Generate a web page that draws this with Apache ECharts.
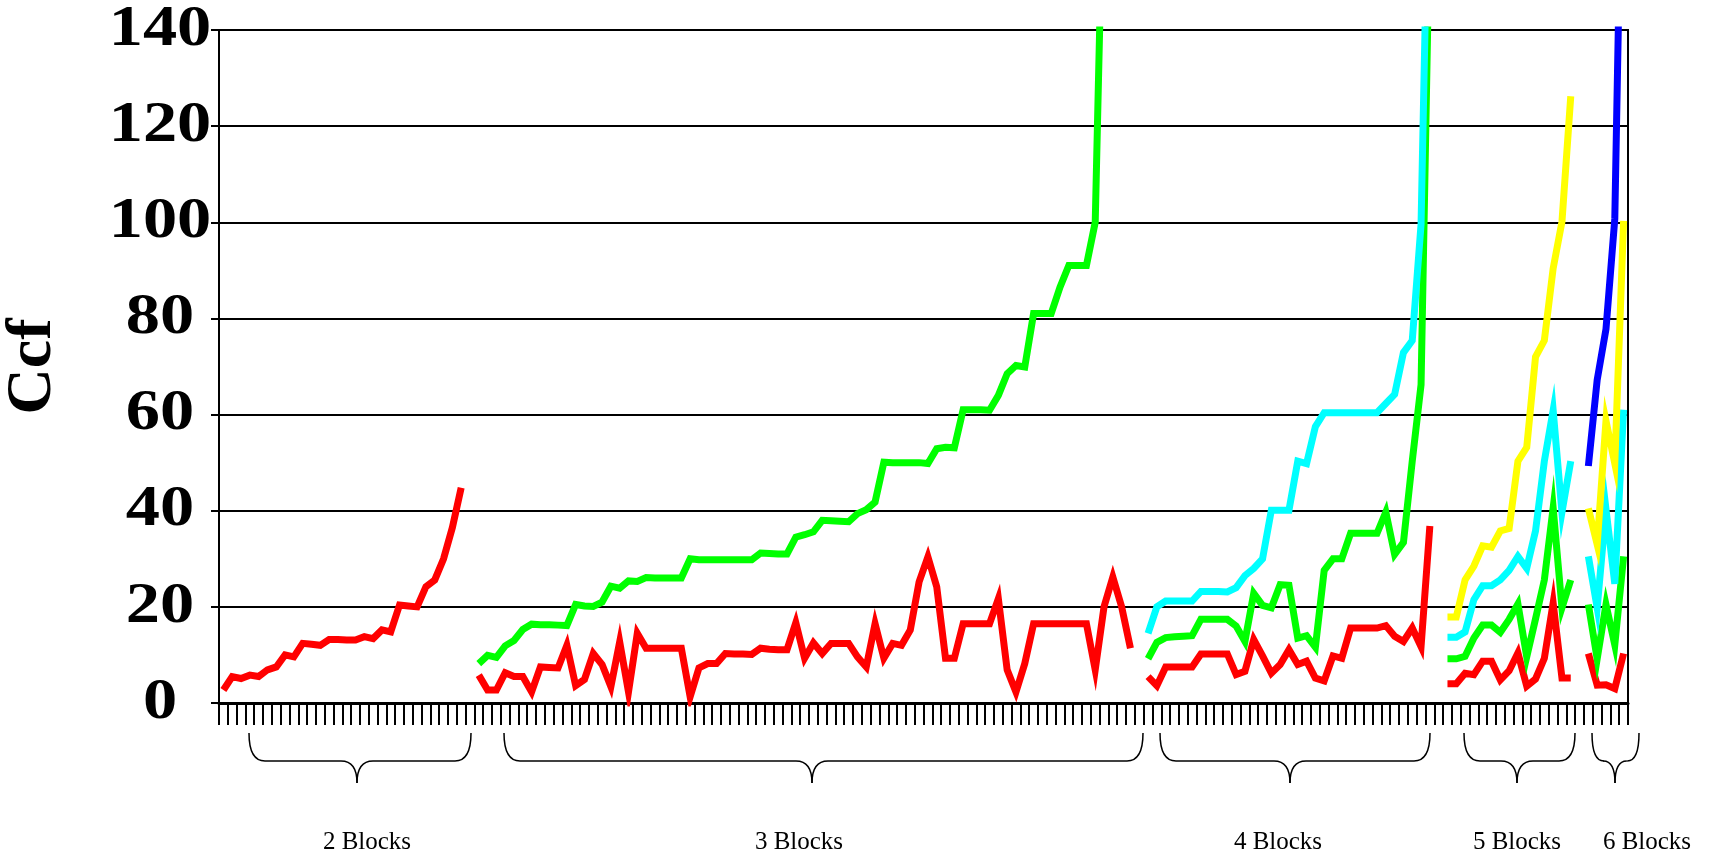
<!DOCTYPE html>
<html>
<head>
<meta charset="utf-8">
<script src="https://cdn.jsdelivr.net/npm/echarts@6/dist/echarts.min.js"></script>
<style>
  html, body { margin: 0; padding: 0; background: #fff; }
  #main { width: 1710px; height: 856px; }
</style>
</head>
<body>
<div id="main"></div>
<script>
// Ccf values per group (one category per configuration, one empty category between groups)
var red2 = [2.7, 5.5, 5.1, 5.8, 5.5, 6.9, 7.5, 10.0, 9.6, 12.4, 12.2, 12.0, 13.2, 13.2,
            13.1, 13.1, 13.8, 13.4, 15.2, 14.8, 20.4, 20.2, 20.0, 24.2, 25.6, 30.0, 36.5, 44.8];

var red3 = [5.8, 2.7, 2.7, 6.3, 5.5, 5.5, 2.3, 7.5, 7.4, 7.3, 12.0, 3.6, 4.9, 10.3, 8.0,
            3.4, 12.7, 2.3, 14.5, 11.4, 11.4, 11.4, 11.4, 11.4, 1.3, 7.3, 8.2, 8.2, 10.3, 10.2,
            10.2, 10.1, 11.4, 11.2, 11.1, 11.1, 16.7, 9.3, 12.5, 10.3, 12.4, 12.4, 12.4, 9.6, 7.5,
            16.5, 9.3, 12.4, 12.0, 15.2, 25.2, 30.4, 24.2, 9.3, 9.3, 16.5, 16.5, 16.5, 16.5, 21.7,
            6.9, 2.3, 8.2, 16.5, 16.5, 16.5, 16.5, 16.5, 16.5, 16.5, 6.9, 20.0, 26.2, 20.0, 11.4];
var green3 = [8.2, 9.9, 9.5, 11.9, 13.0, 15.3, 16.4, 16.3, 16.3, 16.2, 16.1, 20.5, 20.2, 20.1, 21.0,
              24.3, 23.9, 25.4, 25.3, 26.1, 26.0, 26.0, 26.0, 26.0, 30.0, 29.8, 29.8, 29.8, 29.8, 29.8,
              29.8, 29.8, 31.2, 31.1, 31.0, 31.0, 34.5, 35.0, 35.6, 38.0, 37.9, 37.8, 37.7, 39.4, 40.2,
              41.8, 50.1, 50.0, 50.0, 50.0, 50.0, 49.8, 52.9, 53.2, 53.1, 61.0, 61.0, 61.0, 60.9, 64.0,
              68.5, 70.2, 69.9, 81.0, 81.0, 81.0, 86.5, 91.0, 91.0, 91.0, 100.0, 180];

var red4 = [5.5, 3.6, 7.5, 7.5, 7.5, 7.5, 10.2, 10.2, 10.2, 10.2, 5.9, 6.6, 13.2, 9.8, 6.2,
            8.0, 11.1, 8.0, 8.7, 5.2, 4.6, 9.8, 9.3, 15.6, 15.6, 15.6, 15.6, 16.1, 13.9, 12.8,
            15.6, 11.7, 36.8];
var green4 = [9.2, 12.6, 13.6, 13.8, 13.9, 14.0, 17.4, 17.4, 17.4, 17.4, 16.0, 12.8, 22.8, 20.3, 19.8,
              24.6, 24.5, 13.5, 14.0, 11.6, 27.6, 30.0, 30.0, 35.3, 35.3, 35.3, 35.3, 39.7, 30.9, 33.4,
              50.3, 66.2, 165];
var cyan4 = [14.5, 20.0, 21.2, 21.2, 21.2, 21.2, 23.2, 23.2, 23.2, 23.1, 24.0, 26.5, 28.0, 30.0, 40.1,
             40.1, 40.1, 50.3, 49.8, 57.5, 60.4, 60.4, 60.4, 60.4, 60.4, 60.4, 60.4, 62.3, 64.2, 72.9,
             75.4, 99.6, 190];

var red5 = [4.0, 4.0, 6.2, 5.9, 8.7, 8.7, 4.8, 6.7, 10.4, 3.5, 5.0, 9.3, 20.8, 5.2, 5.2];
var green5 = [9.2, 9.2, 9.7, 13.5, 16.2, 16.2, 14.7, 17.4, 20.6, 9.6, 17.5, 25.6, 40.6, 19.8, 25.6];
var cyan5 = [13.7, 13.7, 14.8, 21.5, 24.4, 24.4, 25.6, 27.6, 30.5, 28.0, 35.8, 50.3, 60.9, 39.7, 50.3];
var yellow5 = [17.9, 17.9, 25.6, 28.5, 32.7, 32.4, 35.8, 36.3, 50.3, 53.2, 72.0, 75.4, 90.4, 100.1, 126.2];

var red6 = [10.3, 3.7, 3.8, 3.0, 10.3];
var green6 = [20.5, 9.2, 20.5, 12.1, 30.5];
var cyan6 = [30.5, 19.8, 40.3, 24.8, 61.0];
var yellow6 = [40.5, 33.0, 58.7, 49.8, 100.3];
var blue6 = [49.3, 67.2, 77.8, 100.7, 200];

var groupNames = ['2 Blocks', '3 Blocks', '4 Blocks', '5 Blocks', '6 Blocks'];
var groupStart = [0, 29, 105, 139, 155];
var yTicks = [0, 20, 40, 60, 80, 100, 120, 140];
var nCat = 160;
var categories = [];
for (var i = 0; i < nCat; i++) categories.push(String(i + 1));

function build(parts) {
    var out = [];
    for (var i = 0; i < nCat; i++) out.push(null);
    parts.forEach(function (p) {
        var start = groupStart[p[0]];
        p[1].forEach(function (v, k) { out[start + k] = v; });
    });
    return out;
}

var red = build([[0, red2], [1, red3], [2, red4], [3, red5], [4, red6]]);
var green = build([[1, green3], [2, green4], [3, green5], [4, green6]]);
var cyan = build([[2, cyan4], [3, cyan5], [4, cyan6]]);
var yellow = build([[3, yellow5], [4, yellow6]]);
var blue = build([[4, blue6]]);

var serif = '"Liberation Serif", "Times New Roman", serif';

// braces under the axis: [left, right, middle, label centre] in px
var braceTop = 733, braceMid = 761, braceBot = 783, labelY = 842;
var braces = [[249, 471, 357, 367], [504, 1143, 812, 799], [1160, 1430, 1290, 1278],
              [1464, 1575, 1517, 1517], [1592, 1639, 1615, 1647]];

var graphics = [];
braces.forEach(function (b, k) {
    var x0 = b[0], x1 = b[1], xc = b[2];
    var r = Math.min(16, (x1 - x0) / 4);
    var st = { stroke: '#000', lineWidth: 1.5, fill: null };
    graphics.push({ type: 'bezierCurve', shape: { x1: x0, y1: braceTop, x2: x0 + r, y2: braceMid, cpx1: x0, cpy1: braceMid }, style: st });
    graphics.push({ type: 'line', shape: { x1: x0 + r, y1: braceMid, x2: xc - r, y2: braceMid }, style: st });
    graphics.push({ type: 'bezierCurve', shape: { x1: xc - r, y1: braceMid, x2: xc, y2: braceBot, cpx1: xc, cpy1: braceMid }, style: st });
    graphics.push({ type: 'bezierCurve', shape: { x1: xc + r, y1: braceMid, x2: xc, y2: braceBot, cpx1: xc, cpy1: braceMid }, style: st });
    graphics.push({ type: 'line', shape: { x1: xc + r, y1: braceMid, x2: x1 - r, y2: braceMid }, style: st });
    graphics.push({ type: 'bezierCurve', shape: { x1: x1, y1: braceTop, x2: x1 - r, y2: braceMid, cpx1: x1, cpy1: braceMid }, style: st });
    graphics.push({
        type: 'text', x: b[3], y: labelY,
        style: { text: groupNames[k], fill: '#000', font: '25px ' + serif, textAlign: 'center', textVerticalAlign: 'middle' }
    });
});

function lineSeries(name, color, data) {
    return {
        name: name, type: 'line', data: data, showSymbol: false, connectNulls: false,
        clip: true, animation: false,
        lineStyle: { color: color, width: 7, join: 'miter' }
    };
}

var myChart = echarts.init(document.getElementById('main'));
var option = {
    backgroundColor: '#fff',
    animation: false,
    grid: {
        left: 219, right: 82, top: 30, bottom: 153, containLabel: false, outerBoundsMode: 'none',
        show: true, borderColor: '#000', borderWidth: 2
    },
    xAxis: {
        type: 'category', data: categories, boundaryGap: true,
        axisLine: { lineStyle: { color: '#000', width: 3 } },
        axisTick: { show: true, interval: 0, length: 22, lineStyle: { color: '#000', width: 2 } },
        axisLabel: { show: false }
    },
    yAxis: {
        type: 'value', min: 0, max: 140, interval: 20,
        name: 'Ccf', nameLocation: 'middle', nameGap: 154, nameRotate: 90, nameMoveOverlap: false,
        nameTextStyle: { fontFamily: serif, fontSize: 64, fontWeight: 'bold', color: '#000' },
        axisLine: { show: true, lineStyle: { color: '#000', width: 2 } },
        axisTick: { show: true, length: 8, lineStyle: { color: '#000', width: 2 } },
        splitLine: { lineStyle: { color: '#000', width: 2 } },
        axisLabel: { show: false }
    },
    graphic: graphics,
    series: [
        lineSeries('red', '#ff0000', red),
        lineSeries('green', '#00ff00', green),
        lineSeries('cyan', '#00ffff', cyan),
        lineSeries('yellow', '#ffff00', yellow),
        lineSeries('blue', '#0000ff', blue)
    ]
};
myChart.setOption(option);

// bold tick labels, centred in the margin, placed through the value axis
var tickLabels = yTicks.map(function (v) {
    return {
        type: 'text', x: 160, y: myChart.convertToPixel({ yAxisIndex: 0 }, v), scaleX: 1.2,
        style: { text: String(v), fill: '#000', font: 'bold 57px ' + serif, textAlign: 'center', textVerticalAlign: 'middle' }
    };
});
myChart.setOption({ graphic: graphics.concat(tickLabels) });
</script>
</body>
</html>
